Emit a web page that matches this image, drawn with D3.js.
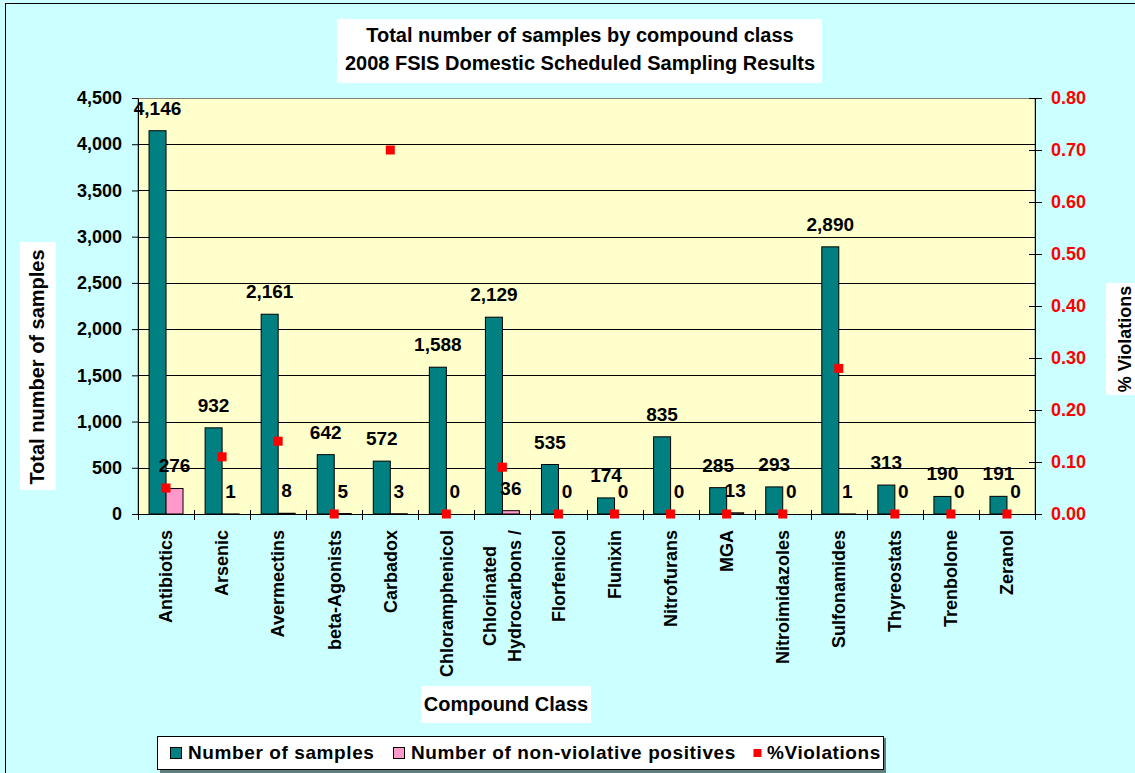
<!DOCTYPE html>
<html lang="en">
<head>
<meta charset="UTF-8">
<script src="https://d3js.org/d3.v7.min.js"></script>
<title>Total number of samples by compound class</title>
<style>
    body { margin: 0; background: #CCFFFF; }
    text { font-family: Arial, "Liberation Sans", sans-serif; font-weight: bold; fill: #000; }
</style>
</head>
<body>
<div id="chart"></div>
<script>
    // data
    var categories = ["Antibiotics", "Arsenic", "Avermectins", "beta-Agonists", "Carbadox",
        "Chloramphenicol", "Chlorinated|Hydrocarbons /", "Florfenicol", "Flunixin", "Nitrofurans",
        "MGA", "Nitroimidazoles", "Sulfonamides", "Thyreostats", "Trenbolone", "Zeranol"];
    var samples = [4146, 932, 2161, 642, 572, 1588, 2129, 535, 174, 835, 285, 293, 2890, 313, 190, 191];
    var positives = [276, 1, 8, 5, 3, 0, 36, 0, 0, 0, 13, 0, 1, 0, 0, 0];
    var violations = [0.05, 0.11, 0.14, 0, 0.70, 0, 0.09, 0, 0, 0, 0, 0, 0.28, 0, 0, 0];
    var leftTicks = [0, 500, 1000, 1500, 2000, 2500, 3000, 3500, 4000, 4500];
    var rightTicks = [0, 0.1, 0.2, 0.3, 0.4, 0.5, 0.6, 0.7, 0.8];
    var seriesNames = ["Number of samples", "Number of non-violative positives", "%Violations"];

    var W = 1135, H = 773;
    var plotL = 138, plotR = 1035, plotT = 98, plotB = 514;

    var svg = d3.select("#chart").append("svg")
        .attr("width", W)
        .attr("height", H);

    // outer chart area
    svg.append("rect").attr("x", 5.5).attr("y", 3.5).attr("width", W + 10).attr("height", H + 10)
        .attr("fill", "#CCFFFF").attr("stroke", "#000");

    // plot area
    svg.append("rect").attr("x", plotL).attr("y", plotT + 0.5).attr("width", plotR - plotL).attr("height", plotB - plotT)
        .attr("fill", "#FFFFCC").attr("stroke", "#808080");

    var x = d3.scaleBand().domain(categories).range([plotL, plotR]).padding(0);
    var xs = d3.scaleBand().domain(["s", "p"]).range([0, x.bandwidth()]).paddingInner(0).paddingOuter(0.65);
    var y = d3.scaleLinear().domain([0, 4500]).range([plotB, plotT]);
    var y2 = d3.scaleLinear().domain([0, 0.8]).range([plotB, plotT]);

    // gridlines
    svg.append("g").selectAll("line").data(leftTicks.slice(1, -1)).enter().append("line")
        .attr("x1", plotL).attr("x2", plotR)
        .attr("y1", function(d) { return Math.round(y(d)) + 0.5; })
        .attr("y2", function(d) { return Math.round(y(d)) + 0.5; })
        .attr("stroke", "#000").attr("stroke-width", 1);

    // left axis
    var gl = svg.append("g").attr("transform", "translate(" + plotL + ",0)")
        .call(d3.axisLeft(y).tickValues(leftTicks).tickFormat(d3.format(",")).tickSize(6).tickSizeOuter(0).tickPadding(10));
    gl.selectAll("text").style("font-size", "18px");

    // right axis
    var gr = svg.append("g").attr("transform", "translate(" + plotR + ",0)")
        .call(d3.axisRight(y2).tickValues(rightTicks).tickFormat(d3.format(".2f")).tickSize(7).tickSizeOuter(0).tickPadding(9));
    gr.selectAll(".tick line").attr("x1", -6);
    gr.selectAll("text").style("font-size", "18px").style("fill", "#FF0000");

    svg.selectAll(".domain").attr("stroke", "#000");
    svg.selectAll(".tick line").attr("stroke", "#000");

    // bars: number of samples
    svg.append("g").selectAll("rect").data(samples).enter().append("rect")
        .attr("x", function(d, i) { return x(categories[i]) + xs("s"); })
        .attr("y", function(d) { return y(d); })
        .attr("width", xs.bandwidth())
        .attr("height", function(d) { return plotB - y(d); })
        .attr("fill", "#008080").attr("stroke", "#000");

    // bars: non-violative positives
    svg.append("g").selectAll("rect").data(positives).enter().append("rect")
        .attr("x", function(d, i) { return x(categories[i]) + xs("p"); })
        .attr("y", function(d) { return y(d); })
        .attr("width", xs.bandwidth())
        .attr("height", function(d) { return plotB - y(d); })
        .attr("fill", "#FF99CC").attr("stroke", "#000");

    // x axis with boundary ticks
    svg.append("line").attr("x1", plotL).attr("x2", plotR).attr("y1", plotB + 0.5).attr("y2", plotB + 0.5).attr("stroke", "#000");
    var bounds = categories.map(function(c) { return x(c); }).concat([plotR]);
    svg.append("g").selectAll("line").data(bounds).enter().append("line")
        .attr("x1", function(d) { return Math.round(d) + 0.5; })
        .attr("x2", function(d) { return Math.round(d) + 0.5; })
        .attr("y1", plotB - 4).attr("y2", plotB + 6)
        .attr("stroke", "#000");

    // violations markers
    svg.append("g").selectAll("rect").data(violations).enter().append("rect")
        .attr("x", function(d, i) { return x(categories[i]) + x.bandwidth() / 2 - 4.5; })
        .attr("y", function(d) { return y2(d) - 4.5; })
        .attr("width", 9).attr("height", 9)
        .attr("fill", "#FF0000");

    // data labels
    svg.append("g").selectAll("text").data(samples).enter().append("text")
        .attr("x", function(d, i) { return x(categories[i]) + xs("s") + xs.bandwidth() / 2; })
        .attr("y", function(d) { return y(d) - 16; })
        .attr("text-anchor", "middle").style("font-size", "19px")
        .text(function(d) { return d3.format(",")(d); });

    svg.append("g").selectAll("text").data(positives).enter().append("text")
        .attr("x", function(d, i) { return x(categories[i]) + xs("p") + xs.bandwidth() / 2; })
        .attr("y", function(d) { return y(d) - 16; })
        .attr("text-anchor", "middle").style("font-size", "19px")
        .text(function(d) { return d3.format(",")(d); });

    // category labels (rotated)
    categories.forEach(function(c) {
        var lines = c.split("|");
        var cx = x(c) + x.bandwidth() / 2;
        var g = svg.append("g");
        var t = g.append("text").attr("text-anchor", "middle").style("font-size", "18px");
        var off = (lines.length - 1) * 12.5;
        lines.forEach(function(l, k) {
            t.append("tspan").attr("x", 0).attr("y", -off + k * 25).attr("dy", "0.35em").text(l);
        });
        var len = d3.max(t.selectAll("tspan").nodes(), function(n) { return n.getComputedTextLength(); });
        g.attr("transform", "translate(" + cx + "," + (530 + len / 2) + ") rotate(-90)");
    });

    // title
    svg.append("rect").attr("x", 337).attr("y", 19).attr("width", 485).attr("height", 64).attr("fill", "#fff");
    svg.append("text").attr("x", 580).attr("y", 42).attr("text-anchor", "middle").style("font-size", "20px")
        .text("Total number of samples by compound class");
    svg.append("text").attr("x", 580).attr("y", 70).attr("text-anchor", "middle").style("font-size", "20px")
        .text("2008 FSIS Domestic Scheduled Sampling Results");

    // axis titles
    svg.append("rect").attr("x", 20).attr("y", 242).attr("width", 36).attr("height", 248).attr("fill", "#fff");
    svg.append("text").attr("transform", "translate(44,367) rotate(-90)").attr("text-anchor", "middle")
        .style("font-size", "20px").text("Total number of samples");

    svg.append("rect").attr("x", 1106).attr("y", 283).attr("width", 40).attr("height", 112).attr("fill", "#fff");
    svg.append("text").attr("transform", "translate(1131,339) rotate(-90)").attr("text-anchor", "middle")
        .style("font-size", "18px").text("% Violations");

    svg.append("rect").attr("x", 421).attr("y", 686).attr("width", 170).attr("height", 37).attr("fill", "#fff");
    svg.append("text").attr("x", 506).attr("y", 711).attr("text-anchor", "middle")
        .style("font-size", "20px").text("Compound Class");

    // legend
    svg.append("rect").attr("x", 160).attr("y", 738).attr("width", 726).attr("height", 35).attr("fill", "#5f7f7f");
    svg.append("rect").attr("x", 157.5).attr("y", 736.5).attr("width", 726).attr("height", 33).attr("fill", "#fff").attr("stroke", "#000");
    var legendX = [170, 393, 753];
    var legendColors = ["#008080", "#FF99CC", "#FF0000"];
    var lg = svg.append("g").selectAll("g").data(seriesNames).enter().append("g");
    lg.append("rect")
        .attr("x", function(d, i) { return legendX[i] + 0.5; })
        .attr("y", function(d, i) { return i == 2 ? 749 : 747.5; })
        .attr("width", function(d, i) { return i == 2 ? 8 : 11; })
        .attr("height", function(d, i) { return i == 2 ? 8 : 11; })
        .attr("fill", function(d, i) { return legendColors[i]; })
        .attr("stroke", function(d, i) { return i == 2 ? "none" : "#000"; });
    lg.append("text")
        .attr("x", function(d, i) { return legendX[i] + (i == 2 ? 14 : 18); })
        .attr("y", 759)
        .style("font-size", "19px").style("letter-spacing", "0.6px")
        .text(function(d) { return d; });
</script>
</body>
</html>
